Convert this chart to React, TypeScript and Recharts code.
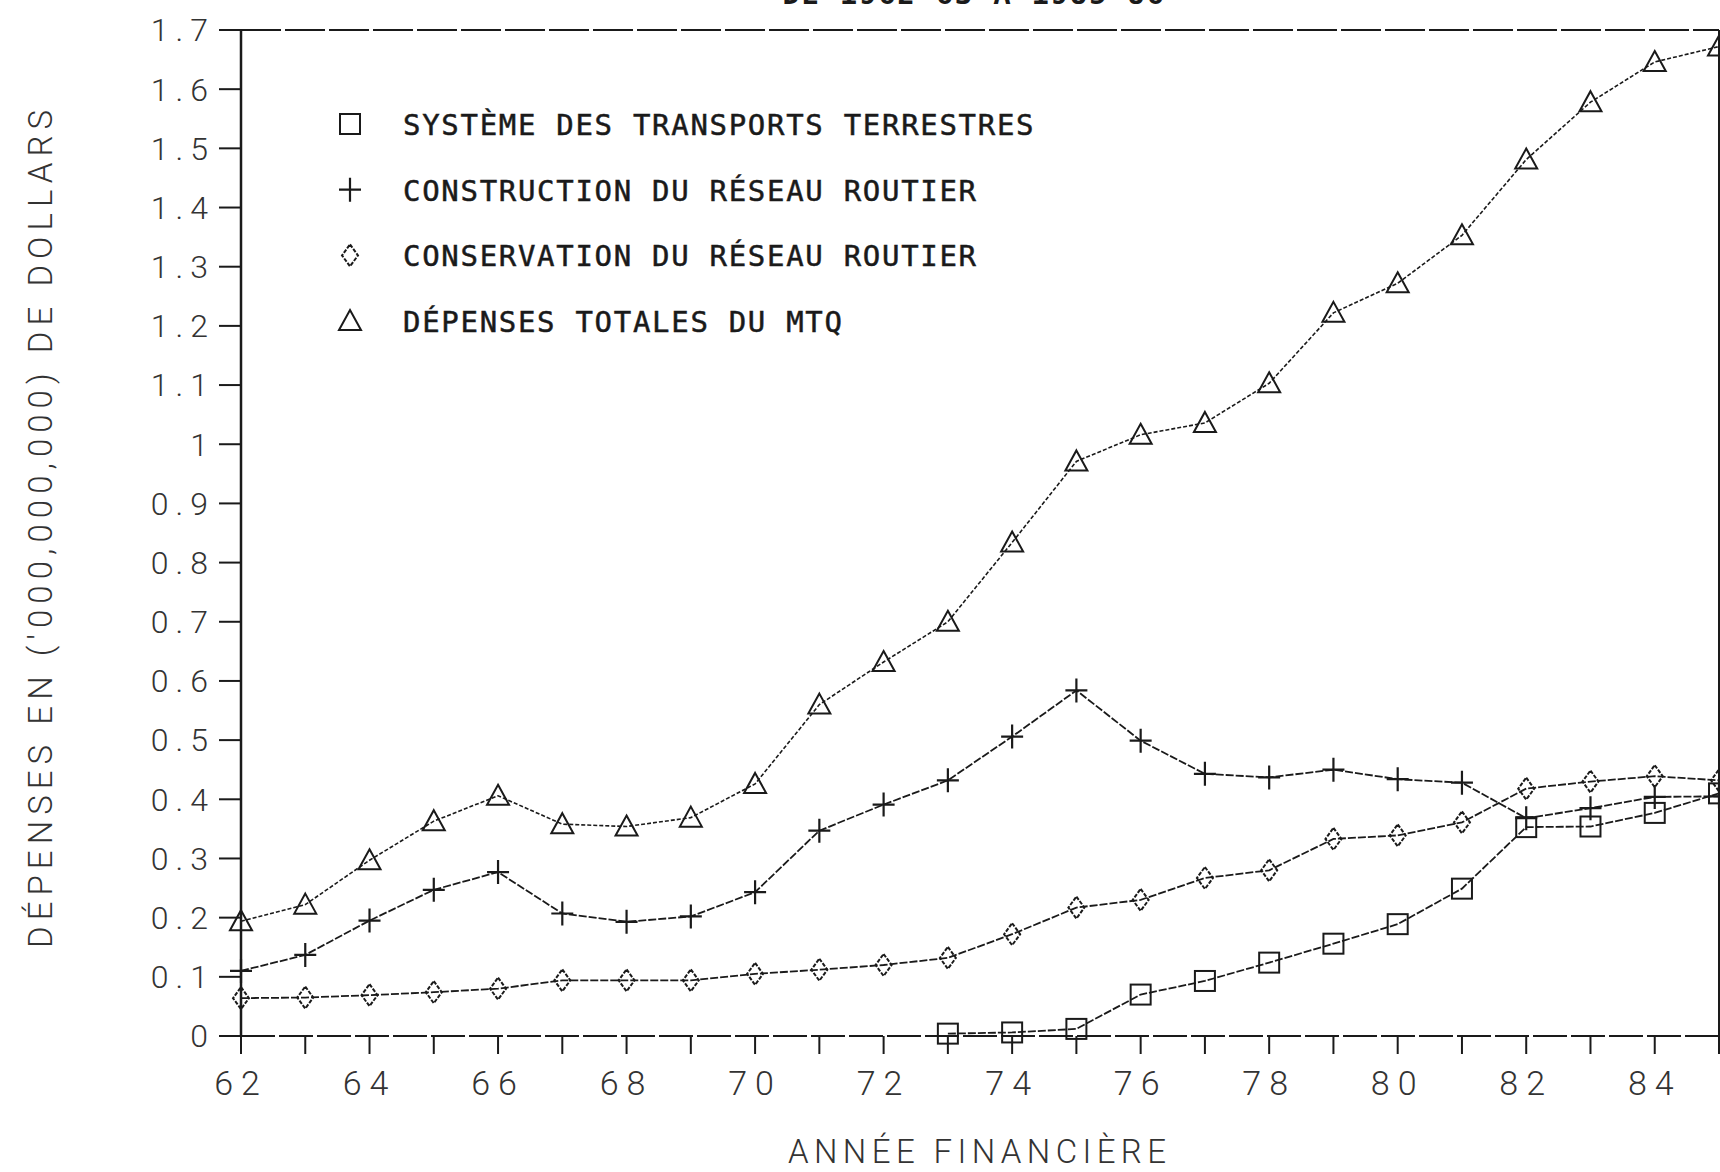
import React from "react";
import { LineChart, Line, XAxis, YAxis, ReferenceLine } from "recharts";

const YEARS = [62, 63, 64, 65, 66, 67, 68, 69, 70, 71, 72, 73, 74, 75, 76, 77, 78, 79, 80, 81, 82, 83, 84, 85];

const TERRESTRES = [
  null, null, null, null, null, null, null, null, null, null, null,
  0.004, 0.006, 0.012, 0.07, 0.093, 0.124, 0.156, 0.189, 0.249, 0.353, 0.354, 0.377, 0.41,
];
const CONSTRUCTION = [
  0.11, 0.137, 0.195, 0.247, 0.277, 0.207, 0.193, 0.202, 0.243, 0.347, 0.391, 0.432,
  0.506, 0.584, 0.499, 0.443, 0.437, 0.45, 0.434, 0.428, 0.368, 0.385, 0.404, 0.405,
];
const CONSERVATION = [
  0.064, 0.065, 0.069, 0.074, 0.08, 0.094, 0.094, 0.094, 0.105, 0.112, 0.12, 0.132,
  0.172, 0.217, 0.23, 0.267, 0.28, 0.333, 0.339, 0.361, 0.418, 0.43, 0.439, 0.432,
];
const TOTAL = [
  0.194, 0.222, 0.297, 0.363, 0.406, 0.358, 0.354, 0.369, 0.426, 0.56, 0.632, 0.7,
  0.834, 0.971, 1.016, 1.036, 1.103, 1.222, 1.272, 1.353, 1.481, 1.578, 1.646, 1.672,
];

const Y_TICKS = [0, 0.1, 0.2, 0.3, 0.4, 0.5, 0.6, 0.7, 0.8, 0.9, 1, 1.1, 1.2, 1.3, 1.4, 1.5, 1.6, 1.7];

const LEGEND = [
  { key: "terrestres", label: "SYSTÈME DES TRANSPORTS TERRESTRES", shape: "square" },
  { key: "construction", label: "CONSTRUCTION DU RÉSEAU ROUTIER", shape: "plus" },
  { key: "conservation", label: "CONSERVATION DU RÉSEAU ROUTIER", shape: "diamond" },
  { key: "total", label: "DÉPENSES TOTALES DU MTQ", shape: "triangle" },
];

const INK = "#1a1a1a";
const THIN_FONT = "Roboto, 'DejaVu Sans', sans-serif";
const MONO_FONT = "'DejaVu Sans Mono', monospace";

const data = YEARS.map((y, i) => ({
  year: y,
  terrestres: TERRESTRES[i],
  construction: CONSTRUCTION[i],
  conservation: CONSERVATION[i],
  total: TOTAL[i],
}));

function Marker({ shape, cx, cy }: { shape: string; cx: number; cy: number }) {
  const common = { fill: "none", stroke: INK, strokeWidth: 2 };
  if (shape === "square") return <rect x={cx - 10} y={cy - 10} width={20} height={20} {...common} />;
  if (shape === "plus")
    return <path d={`M${cx - 11},${cy}H${cx + 11}M${cx},${cy - 12}V${cy + 12}`} {...common} strokeWidth={2.2} />;
  if (shape === "diamond")
    return <path d={`M${cx},${cy - 11}L${cx + 8},${cy}L${cx},${cy + 11}L${cx - 8},${cy}Z`} {...common} strokeDasharray="4 1.5" />;
  return <path d={`M${cx},${cy - 11}L${cx + 11},${cy + 9}L${cx - 11},${cy + 9}Z`} {...common} />;
}

const makeDot = (shape: string) => (props: any) => {
  const { cx, cy, index, value } = props;
  if (value == null || cx == null || cy == null) return <g key={`${shape}-${index}`} />;
  return (
    <g key={`${shape}-${index}`}>
      <Marker shape={shape} cx={cx} cy={cy} />
    </g>
  );
};

const fmtY = (v: number) => (Number.isInteger(v) ? String(v) : v.toFixed(1));

export default function App() {
  return (
    <div style={{ position: "absolute", left: 0, top: 0, width: 1720, height: 1172, background: "#fff", overflow: "hidden" }}>
      <LineChart
        width={1720}
        height={1172}
        data={data}
        margin={{ top: 30, right: 1, bottom: 76, left: 141 }}
      >
        <XAxis
          dataKey="year"
          type="number"
          domain={[62, 85]}
          ticks={YEARS}
          interval={0}
          height={60}
          tickSize={18}
          tickMargin={17}
          tickFormatter={(v: number) => (v % 2 === 0 ? String(v) : "")}
          axisLine={{ stroke: INK, strokeWidth: 2, strokeDasharray: "34 4" }}
          tickLine={{ stroke: INK, strokeWidth: 2 }}
          tick={{ fill: "#333", fontSize: 34, fontFamily: THIN_FONT, fontWeight: 300, letterSpacing: 8 }}
        />
        <YAxis
          type="number"
          domain={[0, 1.7]}
          ticks={Y_TICKS}
          interval={0}
          width={100}
          tickSize={22}
          tickMargin={4}
          tickFormatter={fmtY}
          axisLine={{ stroke: INK, strokeWidth: 2.5 }}
          tickLine={{ stroke: INK, strokeWidth: 2 }}
          tick={{ fill: "#333", fontSize: 32, fontFamily: THIN_FONT, fontWeight: 300, letterSpacing: 7 }}
        />
        <ReferenceLine y={1.7} stroke={INK} strokeWidth={2} strokeDasharray="40 4" />
        <ReferenceLine x={85} stroke={INK} strokeWidth={2} />
        <Line dataKey="terrestres" stroke={INK} strokeWidth={1.8} strokeDasharray="8 2" dot={makeDot("square")} isAnimationActive={false} />
        <Line dataKey="construction" stroke={INK} strokeWidth={1.8} strokeDasharray="8 2" dot={makeDot("plus")} isAnimationActive={false} />
        <Line dataKey="conservation" stroke={INK} strokeWidth={1.8} strokeDasharray="8 2" dot={makeDot("diamond")} isAnimationActive={false} />
        <Line dataKey="total" stroke={INK} strokeWidth={1.6} strokeDasharray="4 2" dot={makeDot("triangle")} isAnimationActive={false} />
        {/* title, mostly cut off by the top of the page */}
        <text x={974} y={4} textAnchor="middle" fontFamily={MONO_FONT} fontWeight="bold" fontSize={29} letterSpacing={1.7} fill={INK}>
          DE 1962-63 À 1985-86
        </text>
        <text
          x={977}
          y={1163}
          textAnchor="middle"
          fontFamily={THIN_FONT}
          fontWeight={300}
          fontSize={33}
          fill="#333"
          textLength={378}
          lengthAdjust="spacing"
        >
          ANNÉE FINANCIÈRE
        </text>
        <text
          x={0}
          y={0}
          transform="translate(52,529) rotate(-90)"
          textAnchor="middle"
          fontFamily={THIN_FONT}
          fontWeight={300}
          fontSize={33}
          fill="#333"
          textLength={838}
          lengthAdjust="spacing"
        >
          DÉPENSES EN ('000,000,000) DE DOLLARS
        </text>
        {LEGEND.map((item, i) => {
          const cy = 124 + i * 65.7;
          return (
            <g key={item.key}>
              <Marker shape={item.shape} cx={350} cy={cy} />
              <text
                x={403}
                y={cy + 11}
                fontFamily={MONO_FONT}
                fontSize={29}
                letterSpacing={1.7}
                fill={INK}
                stroke={INK}
                strokeWidth={0.5}
              >
                {item.label}
              </text>
            </g>
          );
        })}
      </LineChart>
    </div>
  );
}
